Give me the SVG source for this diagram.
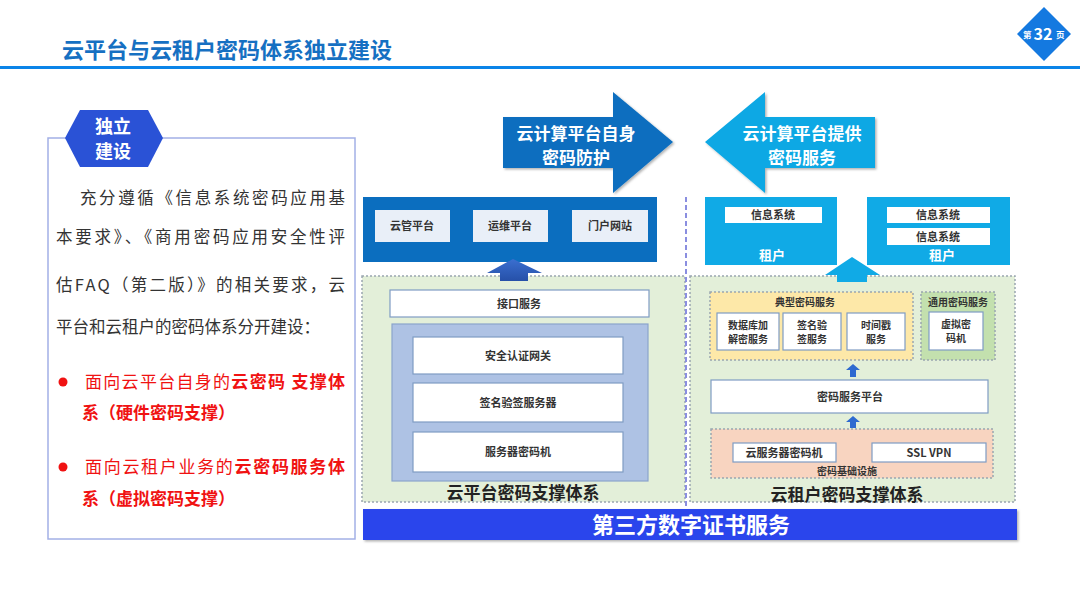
<svg xmlns="http://www.w3.org/2000/svg" width="1080" height="608" viewBox="0 0 1080 608">
<defs>
<style>
text{font-family:"Noto Sans CJK SC","Liberation Sans",sans-serif}
.b{font-weight:bold}
.lbl{font-size:11px;font-weight:bold;fill:#333;text-anchor:middle}
.sm{font-size:10px;font-weight:bold;fill:#333;text-anchor:middle}
.wbox{fill:#fff;stroke:#7f9cc4;stroke-width:1.2}
.body{font-size:16.5px;fill:#333}
.red{font-size:17px;fill:#f01212}
.dot{fill:none;stroke:#9aa6b0;stroke-width:1.5;stroke-dasharray:2 2}
.big{font-size:17px;font-weight:bold;fill:#222;text-anchor:middle}
</style>
<linearGradient id="ug" x1="0" y1="0" x2="0" y2="1"><stop offset="0" stop-color="#3a6fd0"/><stop offset="1" stop-color="#2650a8"/></linearGradient>
<filter id="sh" x="-10%" y="-10%" width="130%" height="130%"><feDropShadow dx="1.5" dy="1.5" stdDeviation="1.2" flood-color="#000" flood-opacity="0.3"/></filter>
</defs>
<rect width="1080" height="608" fill="#fff"/>

<g id="header">
<text x="62" y="58" class="b" font-size="22" fill="#1670c2">云平台与云租户密码体系独立建设</text>
<rect x="0" y="66" width="1080" height="3" fill="#0a84e8"/>
<polygon points="1044,7 1071,34 1044,61 1017,34" fill="#1479e0"/>
<text x="1023" y="38" font-size="8.5" fill="#fff" class="b">第</text>
<text x="1043" y="40" font-size="16" fill="#fff" class="b" text-anchor="middle">32</text>
<text x="1056" y="38" font-size="8.5" fill="#fff" class="b">页</text>
</g>

<g id="left-panel">
<rect x="48" y="138" width="307" height="401" fill="#fff" stroke="#a3b0e6" stroke-width="1.5"/>
<polygon points="65,138 80,110 148,110 163,138 148,167 80,167" fill="#2a52d6"/>
<text x="113" y="133" font-size="18" fill="#fff" class="b" text-anchor="middle">独立</text>
<text x="113" y="158" font-size="18" fill="#fff" class="b" text-anchor="middle">建设</text>
<text x="80" y="204" class="body" textLength="265">充分遵循《信息系统密码应用基</text>
<text x="56" y="243" class="body" textLength="289">本要求》、《商用密码应用安全性评</text>
<text x="56" y="291" class="body" textLength="289">估FAQ（第二版）》的相关要求，云</text>
<text x="56" y="333" class="body">平台和云租户的密码体系分开建设：</text>
<circle cx="63" cy="382" r="4.5" fill="#f01212"/>
<text x="85" y="388" class="red" textLength="260">面向云平台自身的<tspan class="b">云密码 支撑体</tspan></text>
<text x="82" y="419" class="red b">系（硬件密码支撑）</text>
<circle cx="63" cy="467" r="4.5" fill="#f01212"/>
<text x="85" y="473" class="red" textLength="260">面向云租户业务的<tspan class="b">云密码服务体</tspan></text>
<text x="82" y="505" class="red b">系（虚拟密码支撑）</text>
</g>

<g id="arrow-self">
<polygon points="503,117 613,117 613,92 673,142 613,193 613,168 503,168" fill="#0b6ebf" filter="url(#sh)"/>
<text x="576" y="140" font-size="17" fill="#fff" class="b" text-anchor="middle">云计算平台自身</text>
<text x="576" y="164" font-size="17" fill="#fff" class="b" text-anchor="middle">密码防护</text>
</g>

<g id="arrow-service">
<polygon points="705,142 765,92 765,117 875,117 875,168 765,168 765,193" fill="#0fa8e4" filter="url(#sh)"/>
<text x="802" y="140" font-size="17" fill="#fff" class="b" text-anchor="middle">云计算平台提供</text>
<text x="802" y="164" font-size="17" fill="#fff" class="b" text-anchor="middle">密码服务</text>
</g>

<g id="platform-apps">
<rect x="363" y="197" width="294" height="65" fill="#0b6ebf"/>
<rect x="375" y="210" width="75" height="32" fill="#e9eff8"/>
<text x="412" y="230" class="lbl">云管平台</text>
<rect x="473" y="210" width="75" height="32" fill="#e9eff8"/>
<text x="510" y="230" class="lbl">运维平台</text>
<rect x="572" y="210" width="76" height="32" fill="#e9eff8"/>
<text x="610" y="230" class="lbl">门户网站</text>
</g>

<g id="tenant1">
<rect x="705" y="197" width="132" height="68" fill="#10aae6"/>
<rect x="725" y="207" width="97" height="16" fill="#fff"/>
<text x="773" y="219" class="lbl">信息系统</text>
<text x="772" y="260" font-size="13" fill="#fff" class="b" text-anchor="middle">租户</text>
</g>
<g id="tenant2">
<rect x="867" y="197" width="143" height="68" fill="#10aae6"/>
<rect x="887" y="207" width="103" height="16" fill="#fff"/>
<text x="938" y="219" class="lbl">信息系统</text>
<rect x="887" y="228" width="103" height="17" fill="#fff"/>
<text x="938" y="241" class="lbl">信息系统</text>
<text x="942" y="260" font-size="13" fill="#fff" class="b" text-anchor="middle">租户</text>
</g>

<g id="platform-system">
<rect x="362" y="276" width="323" height="226" fill="#e3efd9"/>
<rect x="362" y="276" width="323" height="226" class="dot"/>
<rect x="390" y="290" width="259" height="27" class="wbox"/>
<text x="519" y="308" class="lbl">接口服务</text>
<rect x="392" y="324" width="256" height="157" fill="#aec2e4" stroke="#8aa4cc" stroke-width="1.2"/>
<rect x="413" y="337" width="210" height="37" class="wbox"/>
<text x="518" y="360" class="lbl">安全认证网关</text>
<rect x="413" y="383" width="210" height="39" class="wbox"/>
<text x="518" y="407" class="lbl">签名验签服务器</text>
<rect x="413" y="432" width="210" height="40" class="wbox"/>
<text x="518" y="456" class="lbl">服务器密码机</text>
<text x="523" y="499" class="big">云平台密码支撑体系</text>
</g>

<g id="tenant-system">
<rect x="690" y="276" width="325" height="226" fill="#e3efd9"/>
<rect x="690" y="276" width="325" height="226" class="dot"/>
<g id="typical-services">
<rect x="710" y="292" width="203" height="68" fill="#fde8a8"/>
<rect x="710" y="292" width="203" height="68" class="dot"/>
<text x="805" y="306" class="sm">典型密码服务</text>
<rect x="717" y="313" width="62" height="37" class="wbox" stroke="#5a7aa0"/>
<text x="748" y="329" class="sm">数据库加</text>
<text x="748" y="343" class="sm">解密服务</text>
<rect x="783" y="313" width="58" height="37" class="wbox" stroke="#5a7aa0"/>
<text x="812" y="329" class="sm">签名验</text>
<text x="812" y="343" class="sm">签服务</text>
<rect x="847" y="313" width="58" height="37" class="wbox" stroke="#5a7aa0"/>
<text x="876" y="329" class="sm">时间戳</text>
<text x="876" y="343" class="sm">服务</text>
</g>
<g id="general-services">
<rect x="921" y="292" width="74" height="68" fill="#c3e0ae"/>
<rect x="921" y="292" width="74" height="68" class="dot"/>
<text x="958" y="306" class="sm">通用密码服务</text>
<rect x="929" y="312" width="54" height="38" class="wbox" stroke="#5a7aa0"/>
<text x="956" y="328" class="sm">虚拟密</text>
<text x="956" y="342" class="sm">码机</text>
</g>
<rect x="711" y="380" width="277" height="33" class="wbox"/>
<text x="850" y="401" class="lbl">密码服务平台</text>
<g id="infra">
<rect x="711" y="429" width="282" height="49" fill="#f8d4c0"/>
<rect x="711" y="429" width="282" height="49" class="dot" stroke="#d8b8a8"/>
<rect x="733" y="443" width="103" height="19" class="wbox"/>
<text x="784" y="457" class="lbl">云服务器密码机</text>
<rect x="872" y="443" width="114" height="19" class="wbox"/>
<text x="929" y="457" class="lbl" font-family="Liberation Sans">SSL VPN</text>
<text x="847" y="475" class="sm">密码基础设施</text>
</g>
<text x="847" y="501" class="big">云租户密码支撑体系</text>
</g>

<g id="connectors">
<polygon points="513,259 542,273 528,273 528,281 500,281 500,273 487,273" fill="url(#ug)"/>
<polygon points="852,257 880,275 867,275 867,282 837,282 837,275 825,275" fill="#10aae6"/>
<polygon points="853,364 860,370 856,370 856,377 850,377 850,370 846,370" fill="#2e6ad0"/>
<polygon points="853,416 860,422 856,422 856,428 850,428 850,422 846,422" fill="#2e6ad0"/>
<line x1="686" y1="197" x2="686" y2="510" stroke="#8a8ee0" stroke-width="2" stroke-dasharray="5 3"/>
</g>

<g id="ca-bar">
<rect x="363" y="509" width="654" height="31" fill="#2a44ec" filter="url(#sh)"/>
<text x="691" y="533" font-size="22" fill="#fff" class="b" text-anchor="middle">第三方数字证书服务</text>
</g>
</svg>
